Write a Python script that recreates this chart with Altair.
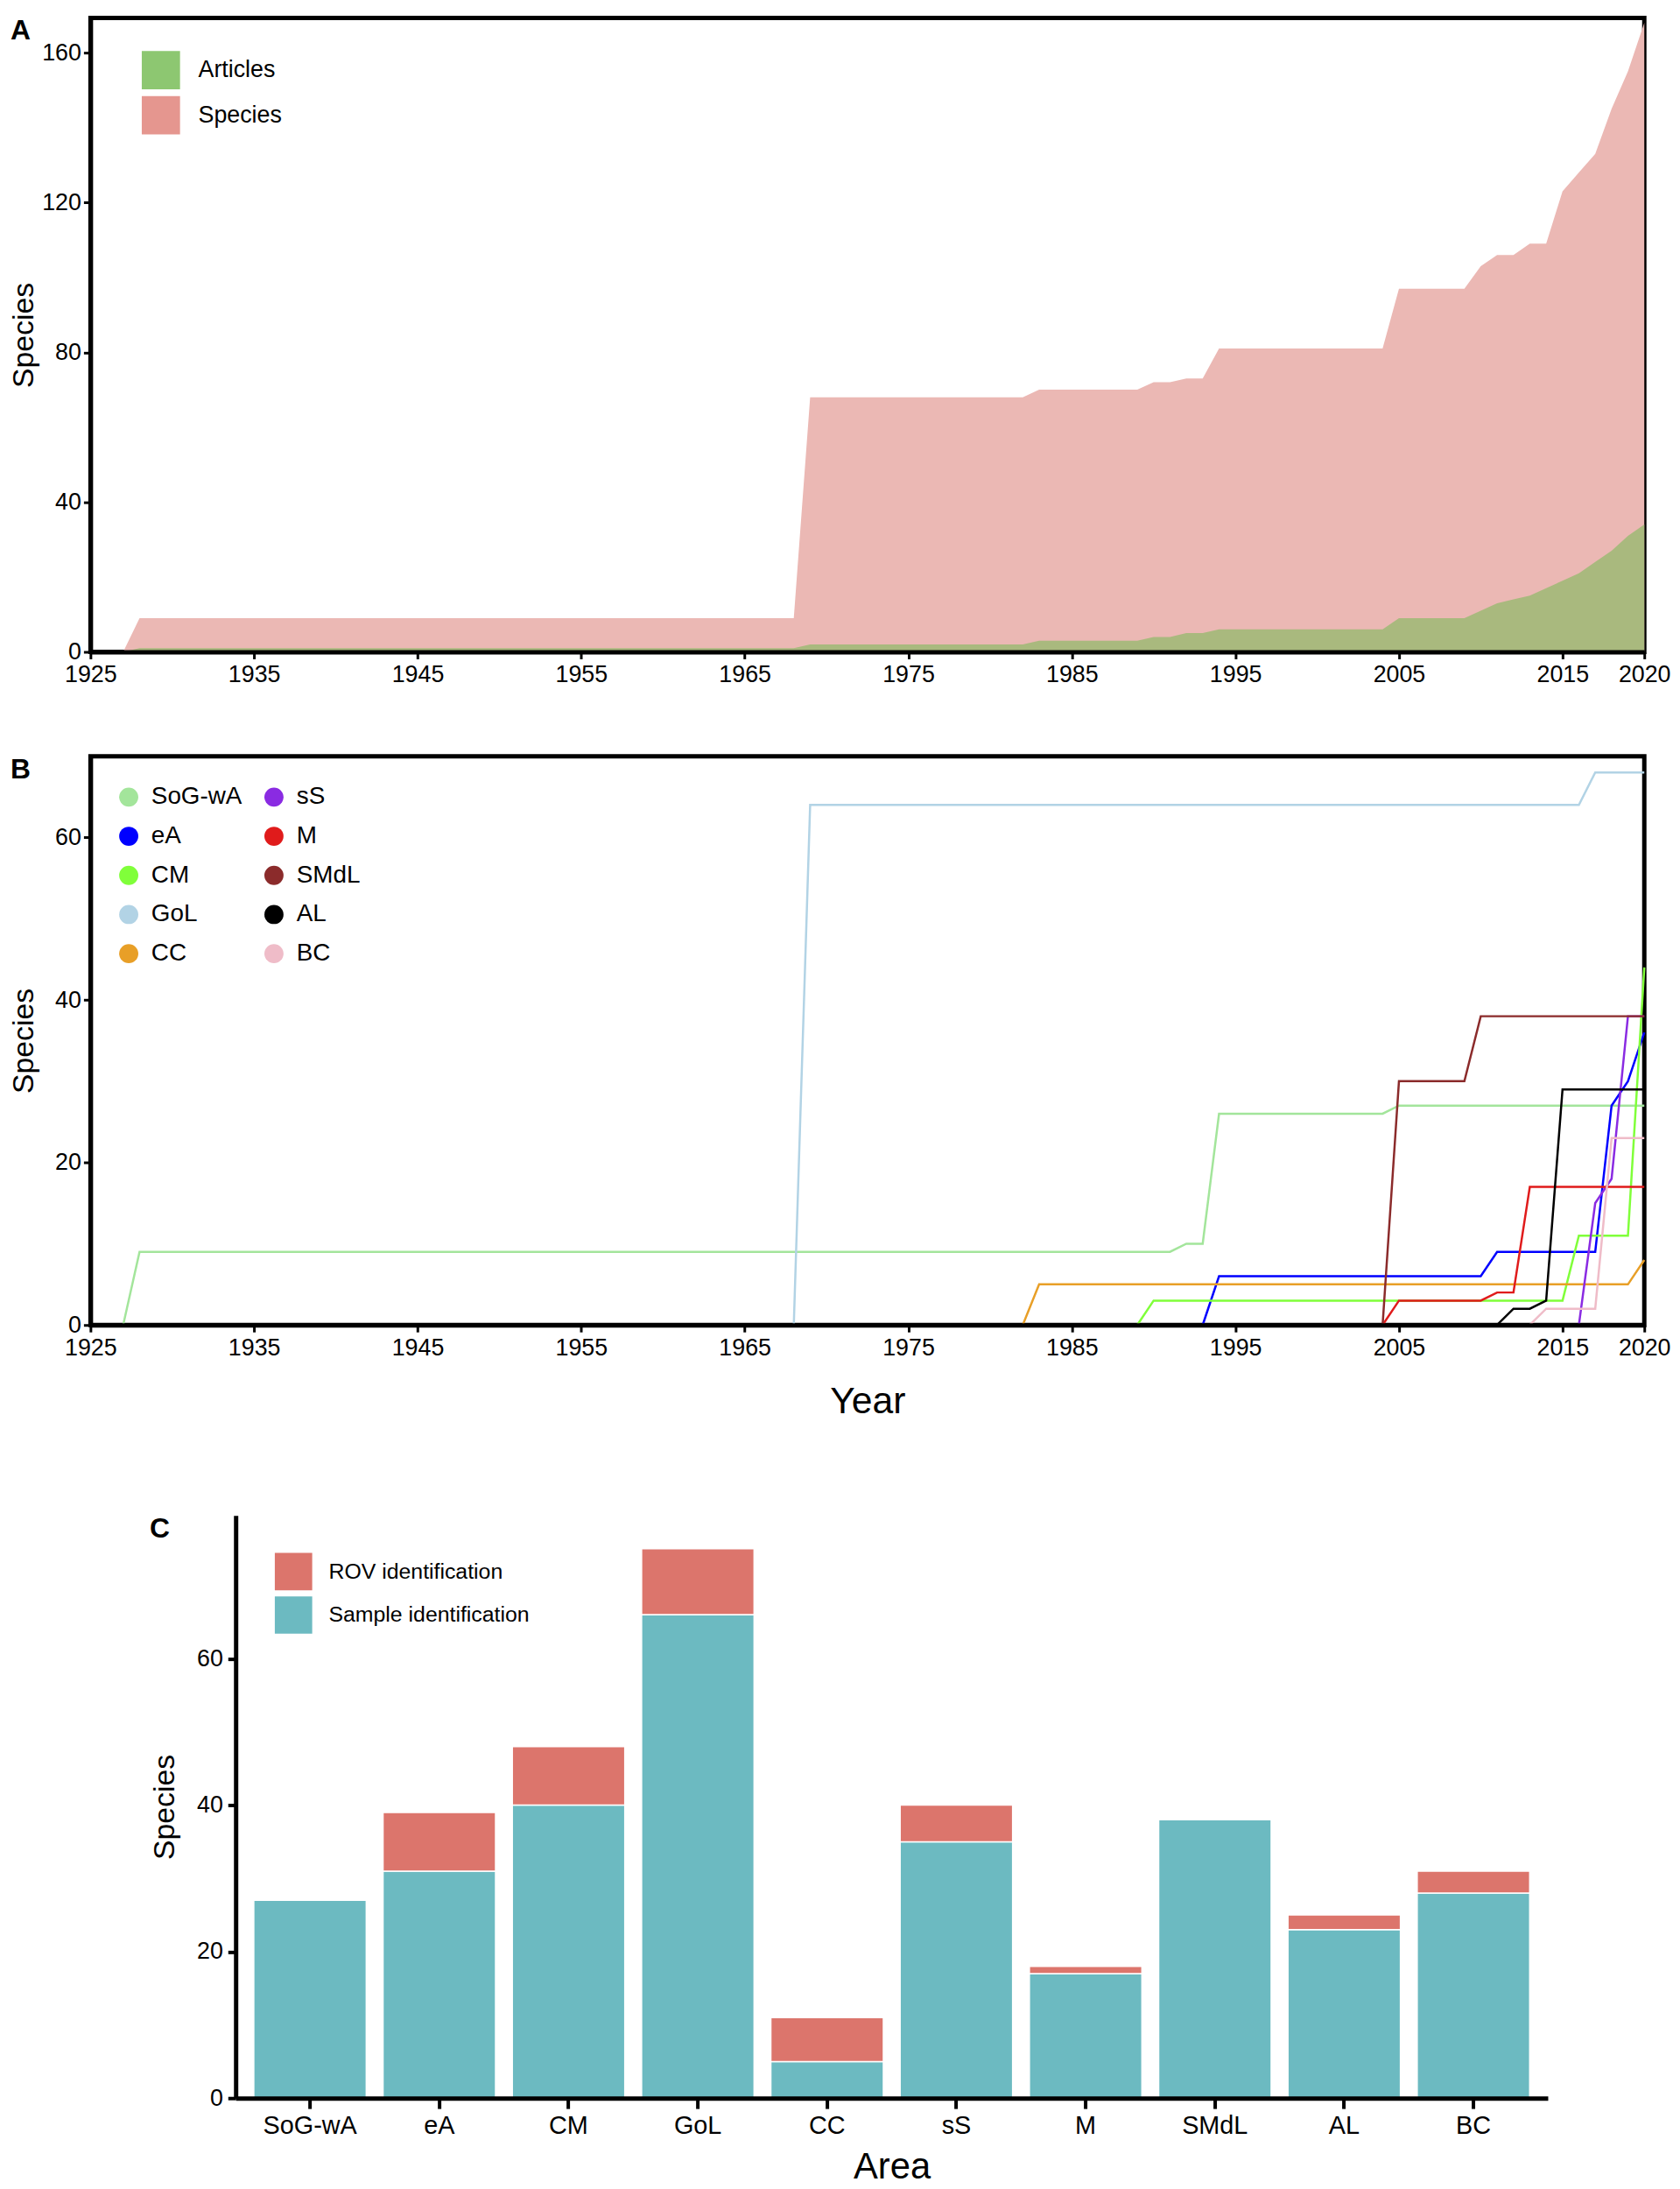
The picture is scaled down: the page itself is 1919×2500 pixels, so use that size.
import altair as alt
import pandas as pd

FONT = "Liberation Sans"

# ---------------- Panel A data ----------------
years_a = [1927, 1928, 1968, 1969, 1982, 1983, 1989, 1990, 1991, 1992, 1993, 1994,
           2004, 2005, 2009, 2010, 2011, 2012, 2013, 2014, 2015, 2016, 2017, 2018, 2019, 2020]
species_a = [0, 9, 9, 68, 68, 70, 70, 72, 72, 73, 73, 81,
             81, 97, 97, 103, 106, 106, 109, 109, 123, 128, 133, 145, 155, 168]
articles_a = [0, 1, 1, 2, 2, 3, 3, 4, 4, 5, 5, 6,
              6, 9, 9, 11, 13, 14, 15, 17, 19, 21, 24, 27, 31, 34]
legend_a_names = ["Articles", "Species"]
legend_a_colors = ["#8dc771", "#e5968f"]
area_species_color = "#ebb8b4"
area_articles_color = "#a9b97e"

year_ticks = [1925, 1935, 1945, 1955, 1965, 1975, 1985, 1995, 2005, 2015, 2020]

# ---------------- Panel B data ----------------
b_names = ["SoG-wA", "eA", "CM", "GoL", "CC", "sS", "M", "SMdL", "AL", "BC"]
b_colors = ["#a3e59b", "#0000ff", "#80ff3a", "#b2d3e5", "#e89f27",
            "#8a2be2", "#e01b1b", "#8b2b2b", "#000000", "#efbcc8"]
sog_years = [1927, 1928, 1991, 1992, 1993, 1994, 2004, 2005, 2020]
sog_vals = [0, 9, 9, 10, 10, 26, 26, 27, 27]
ea_years = [1993, 1994, 2010, 2011, 2017, 2018, 2019, 2020]
ea_vals = [0, 6, 6, 9, 9, 27, 30, 36]
cm_years = [1989, 1990, 2015, 2016, 2019, 2020]
cm_vals = [0, 3, 3, 11, 11, 44]
gol_years = [1968, 1969, 2016, 2017, 2020]
gol_vals = [0, 64, 64, 68, 68]
cc_years = [1982, 1983, 2019, 2020]
cc_vals = [0, 5, 5, 8]
ss_years = [2016, 2017, 2018, 2019, 2020]
ss_vals = [0, 15, 18, 38, 38]
m_years = [2004, 2005, 2010, 2011, 2012, 2013, 2020]
m_vals = [0, 3, 3, 4, 4, 17, 17]
smdl_years = [2004, 2005, 2009, 2010, 2020]
smdl_vals = [0, 30, 30, 38, 38]
al_years = [2011, 2012, 2013, 2014, 2015, 2020]
al_vals = [0, 2, 2, 3, 29, 29]
bc_years = [2013, 2014, 2017, 2018, 2020]
bc_vals = [0, 2, 2, 23, 23]
b_series = [(sog_years, sog_vals), (ea_years, ea_vals), (cm_years, cm_vals),
            (gol_years, gol_vals), (cc_years, cc_vals), (ss_years, ss_vals),
            (m_years, m_vals), (smdl_years, smdl_vals), (al_years, al_vals),
            (bc_years, bc_vals)]

# ---------------- Panel C data ----------------
c_areas = ["SoG-wA", "eA", "CM", "GoL", "CC", "sS", "M", "SMdL", "AL", "BC"]
sample_id = [27, 31, 40, 66, 5, 35, 17, 38, 23, 28]
rov_id = [0, 8, 8, 9, 6, 5, 1, 0, 2, 3]
c_kinds = ["ROV identification", "Sample identification"]
c_colors = ["#dc756c", "#6cbac1"]

# ---------------- frames ----------------
df_a = pd.DataFrame({"year": years_a, "Species": species_a, "Articles": articles_a})

rows = []
for name, (ys, vs) in zip(b_names, b_series):
    for y, v in zip(ys, vs):
        rows.append({"area": name, "year": y, "value": v})
df_b = pd.DataFrame(rows)

rows = []
for a, s, r in zip(c_areas, sample_id, rov_id):
    rows.append({"area": a, "kind": "Sample identification", "count": s, "ord": 0})
    rows.append({"area": a, "kind": "ROV identification", "count": r, "ord": 1})
df_c = pd.DataFrame(rows)

W_AB = 1787
H_A = 729
H_B = 654
W_C = 1509
H_C = 670
FRAME = alt.ViewBackground(stroke="black", strokeWidth=5)

x_scale = alt.Scale(domain=[1925, 2020], nice=False, zero=False)


def x_axis(title=None):
    kw = dict(values=year_ticks, format="d", labelFlush=False, labelFontSize=27,
              labelPadding=5, tickSize=8, tickWidth=3, domainWidth=5, zindex=1,
              grid=False, labelOverlap=False)
    if title:
        kw.update(title=title, titleFontSize=43, titleFontWeight="normal", titlePadding=28)
    else:
        kw.update(title=None)
    return alt.Axis(**kw)


def y_axis(vals, title_x):
    return alt.Axis(values=vals, title="Species", titleX=title_x, titleBaseline="middle",
                    titleFontSize=34, titleFontWeight="normal", labelFontSize=27,
                    labelPadding=3, tickSize=8, tickWidth=3, domainWidth=5, zindex=1,
                    grid=False)


def letter(txt, dx):
    return alt.Chart(pd.DataFrame({"lbl": [txt]})).mark_text(
        align="left", baseline="top", fontSize=32, fontWeight="bold", font=FONT,
        color="black").encode(text="lbl:N", x=alt.value(dx), y=alt.value(0))


# ---------------- Panel A ----------------
ya = y_axis([0, 40, 80, 120, 160], -76)
ya_scale = alt.Scale(domain=[0, 169.3], nice=False)
area_sp = alt.Chart(df_a).mark_area(color=area_species_color).encode(
    x=alt.X("year:Q", scale=x_scale, axis=x_axis()),
    y=alt.Y("Species:Q", scale=ya_scale, axis=ya),
)
area_ar = alt.Chart(df_a).mark_area(color=area_articles_color).encode(
    x=alt.X("year:Q", scale=x_scale, axis=x_axis()),
    y=alt.Y("Articles:Q", scale=ya_scale, axis=ya),
)
legend_a = alt.Chart(pd.DataFrame({"series": legend_a_names})).transform_filter(
    "false").mark_square().encode(
    color=alt.Color("series:N",
                    scale=alt.Scale(domain=legend_a_names, range=legend_a_colors),
                    legend=alt.Legend(title=None, orient="none", legendX=59, legendY=38,
                                      symbolType="square", symbolSize=1936,
                                      symbolStrokeWidth=0, symbolOpacity=1,
                                      labelFontSize=27, labelOffset=21, rowPadding=8,
                                      padding=0, labelFont=FONT, labelColor="black",
                                      labelLimit=0))
)
panel_a = alt.layer(area_sp, area_ar, legend_a, letter("A", -92)).properties(
    width=W_AB, height=H_A, view=FRAME)

# ---------------- Panel B ----------------
yb = y_axis([0, 20, 40, 60], -76)
yb_scale = alt.Scale(domain=[0, 70], nice=False)
b_color_scale = alt.Scale(domain=b_names, range=b_colors)
lines_b = alt.Chart(df_b).mark_line(strokeWidth=2.5).encode(
    x=alt.X("year:Q", scale=x_scale, axis=x_axis("Year")),
    y=alt.Y("value:Q", scale=yb_scale, axis=yb),
    color=alt.Color("area:N", scale=b_color_scale, legend=None),
    detail="area:N",
)
legend_b = alt.Chart(pd.DataFrame({"area": b_names})).transform_filter(
    "false").mark_circle().encode(
    color=alt.Color("area:N", scale=b_color_scale,
                    legend=alt.Legend(title=None, orient="none", legendX=30, legendY=33,
                                      columns=2, symbolType="circle", symbolSize=484,
                                      symbolStrokeWidth=0, symbolOpacity=1,
                                      labelFontSize=28, labelOffset=12, rowPadding=17,
                                      columnPadding=22, padding=0, labelFont=FONT,
                                      labelColor="black", labelLimit=0))
)
panel_b = alt.layer(lines_b, legend_b, letter("B", -92)).resolve_scale(
    color="independent").resolve_legend(color="independent").properties(
    width=W_AB, height=H_B, view=FRAME)

# ---------------- Panel C ----------------
bars_c = alt.Chart(df_c).mark_bar(stroke="white", strokeWidth=1.5).encode(
    x=alt.X("area:N", sort=c_areas,
            scale=alt.Scale(paddingInner=0.13, paddingOuter=0.14),
            axis=alt.Axis(title="Area", titleFontSize=42, titleFontWeight="normal",
                          titlePadding=12, labelFontSize=29, labelAngle=0, labelPadding=6,
                          tickSize=12, tickWidth=4, domainWidth=5, zindex=1)),
    y=alt.Y("count:Q", stack="zero", scale=alt.Scale(domain=[0, 79.55], nice=False),
            axis=alt.Axis(values=[0, 20, 40, 60], title="Species", titleX=-81,
                          titleBaseline="middle", titleFontSize=34,
                          titleFontWeight="normal", labelFontSize=27, labelPadding=6,
                          tickSize=9, tickWidth=4, domainWidth=5, zindex=1, grid=False)),
    color=alt.Color("kind:N", scale=alt.Scale(domain=c_kinds, range=c_colors),
                    legend=alt.Legend(title=None, orient="none", legendX=45, legendY=43,
                                      symbolType="square", symbolSize=1849,
                                      symbolStrokeWidth=0, symbolOpacity=1,
                                      labelFontSize=25, labelOffset=19, rowPadding=7,
                                      padding=0, labelFont=FONT, labelColor="black",
                                      labelLimit=0)),
    order=alt.Order("ord:Q", sort="ascending"),
)
panel_c = alt.layer(bars_c, letter("C", -99)).properties(width=W_C, height=H_C)

spacer = alt.Chart(pd.DataFrame({"v": [0]})).mark_point(opacity=0).encode(
    x=alt.value(0), y=alt.value(0)).properties(width=68, height=10)

top = alt.vconcat(panel_a, panel_b, spacing=74).resolve_scale(
    color="independent").resolve_legend(color="independent")
bottom = alt.hconcat(spacer, panel_c, spacing=0).resolve_scale(
    color="independent").resolve_legend(color="independent")

chart = alt.vconcat(top, bottom, spacing=103).resolve_scale(
    color="independent").resolve_legend(color="independent").properties(
    padding=0).configure_view(strokeWidth=0).configure_axis(
    labelFont=FONT, titleFont=FONT, labelColor="black", titleColor="black",
    domainColor="black", tickColor="black", grid=False
).configure_legend(labelFont=FONT).configure_text(font=FONT)

chart.save("out.html", embed_options={"renderer": "svg", "actions": False})
